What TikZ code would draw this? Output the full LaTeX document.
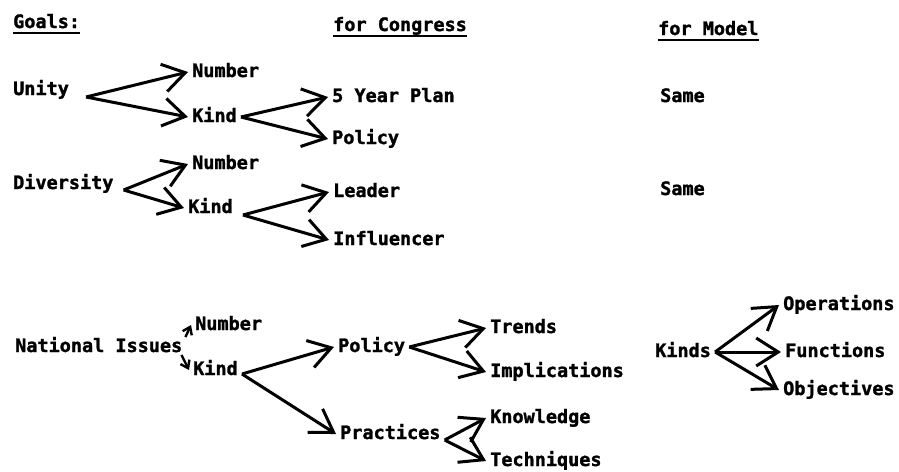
\documentclass[tikz,border=0pt]{standalone}
\usepackage{fontspec}
\newfontfamily\typefont[BoldFeatures={FakeBold=1.5}]{DejaVu Sans Mono}
\usepackage{tikz}
\usetikzlibrary{arrows.meta}
\tikzset{
    word/.style={anchor=west, inner xsep=4pt, inner ysep=0pt, text height=13pt, text depth=3pt,
        font=\typefont\bfseries\fontsize{18.5}{22}\selectfont},
    heading/.style={word, inner xsep=0pt, text depth=5pt},
    fork/.style={line width=3pt, -{Straight Barb[length=22pt,width=28pt]}},
    twig/.style={line width=2.4pt, -{Straight Barb[length=7pt,width=10pt]}},
    rule/.style={line width=2.4pt}}

\begin{document}
\begin{tikzpicture}[x=1pt, y=-1pt]

            \useasboundingbox (0,0) rectangle (899,471);

            \node[heading] (goals) at (13,24) {Goals:};
            \node[heading] (cong) at (333,27) {for Congress};
            \node[heading] (model) at (658,31) {for Model};
            \draw[rule] (goals.south west) -- (goals.south east);
            \draw[rule] (cong.south west) -- (cong.south east);
            \draw[rule] (model.south west) -- (model.south east);

            \node[word] (unity) at (9,90) {Unity};
            \node[word] (num1) at (188,72) {Number};
            \node[word] (kind1) at (188,117) {Kind};
            \node[word] (plan) at (328,97) {5 Year Plan};
            \node[word] (pol1) at (328,139) {Policy};
            \node[word] (same1) at (656,97) {Same};

            \node[word] (div) at (9,184) {Diversity};
            \node[word] (num2) at (188,164) {Number};
            \node[word] (kind2) at (184,208) {Kind};
            \node[word] (lead) at (329,192) {Leader};
            \node[word] (infl) at (329,240) {Influencer};
            \node[word] (same2) at (656,190) {Same};

            \node[word] (natl) at (11,347) {National Issues};
            \node[word] (num3) at (191,325) {Number};
            \node[word] (kind3) at (189,370) {Kind};
            \node[word] (pol3) at (334,347) {Policy};
            \node[word] (prac) at (336,434) {Practices};
            \node[word] (trend) at (486,328) {Trends};
            \node[word] (impl) at (486,372) {Implications};
            \node[word] (know) at (486,418) {Knowledge};
            \node[word] (tech) at (486,461) {Techniques};

            \node[word] (kinds) at (651,352) {Kinds};
            \node[word] (oper) at (779,305) {Operations};
            \node[word] (func) at (781,352) {Functions};
            \node[word] (obj) at (779,390) {Objectives};

            \draw[fork] ([xshift=13pt,yshift=-7pt]unity.east) -- (num1.west);
            \draw[fork] ([xshift=13pt,yshift=-7pt]unity.east) -- (kind1.west);
            \draw[fork] (kind1.east) -- (plan.west);
            \draw[fork] (kind1.east) -- (pol1.west);

            \draw[fork] ([xshift=6pt,yshift=-6pt]div.east) -- (num2.west);
            \draw[fork] ([xshift=6pt,yshift=-6pt]div.east) -- (kind2.west);
            \draw[fork] ([xshift=6pt,yshift=-7pt]kind2.east) -- (lead.west);
            \draw[fork] ([xshift=6pt,yshift=-7pt]kind2.east) -- (infl.west);

            \draw[twig] ([xshift=-1pt,yshift=10pt]natl.east) -- (num3.west);
            \draw[twig] ([xshift=-5pt,yshift=-8pt]natl.east) -- (kind3.west);
            \draw[fork] ([yshift=-4pt]kind3.east) -- (pol3.west);
            \draw[fork] ([yshift=-4pt]kind3.east) -- (prac.west);
            \draw[fork] (pol3.east) -- (trend.west);
            \draw[fork] (pol3.east) -- (impl.west);
            \draw[fork] ([yshift=-6pt]prac.east) -- (know.west);
            \draw[fork] ([yshift=-6pt]prac.east) -- (tech.west);

            \draw[fork] (kinds.east) -- (oper.west);
            \draw[fork] (kinds.east) -- (func.west);
            \draw[fork] (kinds.east) -- (obj.west);

        \end{tikzpicture}
\end{document}
